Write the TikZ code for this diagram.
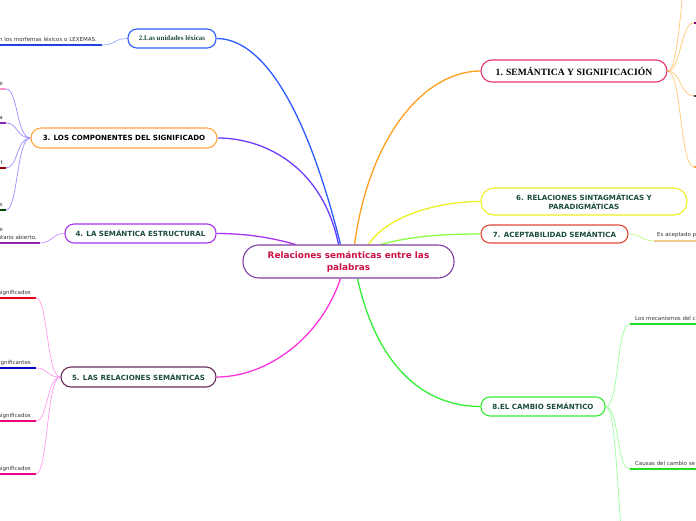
\documentclass[tikz,border=0pt]{standalone}
\usepackage{fontspec}
\setmainfont{Liberation Serif}
\newfontfamily\vfont{DejaVu Sans}
\pgfdeclarelayer{background}
\pgfsetlayers{background,main}
\definecolor{cenpurple}{HTML}{7E3FA0}
\definecolor{cenred}{HTML}{CC1144}
\definecolor{txtgreen}{HTML}{1B4D3E}
\definecolor{leafgray}{HTML}{333333}
\definecolor{cA}{HTML}{2B5CFF}\definecolor{cApale}{HTML}{99AAFF}\definecolor{cAline}{HTML}{2244DD}
\definecolor{bB}{HTML}{FFA540}\definecolor{cB}{HTML}{6A3BFF}\definecolor{cBpale}{HTML}{9F8AFF}
\definecolor{bC}{HTML}{AA33EE}\definecolor{cCpale}{HTML}{CC88FF}\definecolor{cCline}{HTML}{8E24AA}
\definecolor{bD}{HTML}{6B2D5C}\definecolor{cD}{HTML}{FF33DD}\definecolor{cDpale}{HTML}{FF99EE}
\definecolor{bE}{HTML}{E8336A}\definecolor{cE}{HTML}{FFA020}\definecolor{cEpale}{HTML}{FFC870}
\definecolor{bF}{HTML}{EEEE22}
\definecolor{bG}{HTML}{E0483A}\definecolor{cG}{HTML}{88FF44}\definecolor{cGpale}{HTML}{B0FF80}\definecolor{cGline}{HTML}{F0C890}
\definecolor{bH}{HTML}{33EE33}\definecolor{cHpale}{HTML}{99FF99}\definecolor{cHline}{HTML}{22DD22}
\begin{document}
\begin{tikzpicture}[x=1pt,y=-1pt,
  box/.style={draw,fill=white,line width=1.1pt,align=center,inner sep=0pt,rounded corners=9pt,text=txtgreen,font=\vfont\bfseries\fontsize{7.1}{8.6}\selectfont},
  mainconn/.style={line width=1.3pt},
  subconn/.style={line width=0.7pt},
  leafline/.style={line width=1.6pt},
  leaftext/.style={inner sep=0pt,text=leafgray,font=\vfont\fontsize{5.5}{6.5}\selectfont}]
\useasboundingbox (0,0) rectangle (696,520);

% main nodes
\node[box,draw=cenpurple,text=cenred,minimum width=211pt,minimum height=33pt,rounded corners=16pt,font=\vfont\bfseries\fontsize{8.9}{12}\selectfont] (cen) at (348.5,261.5) {Relaciones semánticas entre las\\palabras};
\node[box,draw=cA,minimum width=88pt,minimum height=19pt,font=\bfseries\fontsize{7}{8}\selectfont] (n2) at (172,38.5) {2.Las unidades léxicas};
\node[box,draw=bB,text=black,minimum width=186pt,minimum height=20pt,rounded corners=10pt] (n3) at (124,138) {3. LOS COMPONENTES DEL SIGNIFICADO};
\node[box,draw=bC,minimum width=151pt,minimum height=19pt] (n4) at (140.5,233.5) {4. LA SEMÁNTICA ESTRUCTURAL};
\node[box,draw=bD,minimum width=155pt,minimum height=20pt,rounded corners=10pt] (n5) at (138.5,377) {5. LAS RELACIONES SEMÁNTICAS};
\node[box,draw=bE,text=black,minimum width=186pt,minimum height=22pt,rounded corners=11pt,font=\bfseries\fontsize{9.6}{11}\selectfont] (n1) at (574,71) {1. SEMÁNTICA Y SIGNIFICACIÓN};
\node[box,draw=bF,minimum width=206pt,minimum height=27pt,rounded corners=13pt] (n6) at (584,201.5) {6. RELACIONES SINTAGMÁTICAS Y\\PARADIGMÁTICAS};
\node[box,draw=bG,minimum width=147pt,minimum height=18pt] (n7) at (554.5,234) {7. ACEPTABILIDAD SEMÁNTICA};
\node[box,draw=bH,minimum width=124pt,minimum height=19pt] (n8) at (543,406.5) {8.EL CAMBIO SEMÁNTICO};

% leaf coordinates
\coordinate (l2) at (102,45);
\coordinate (l3a) at (6,89);
\coordinate (l3b) at (6,123);
\coordinate (l3c) at (6,168);
\coordinate (l3d) at (6,210);
\coordinate (l4) at (40,243);
\coordinate (l5a) at (36,298);
\coordinate (l5b) at (36,368);
\coordinate (l5c) at (36,421);
\coordinate (l5d) at (36,474);
\coordinate (l1a) at (694,-45);
\coordinate (l1b) at (694,23);
\coordinate (l1c) at (694,96);
\coordinate (l1d) at (694,167);
\coordinate (l7) at (654,241);
\coordinate (l8a) at (630,324);
\coordinate (l8b) at (630,469);
\coordinate (l8c) at (630,560);

% leaf texts
\node[leaftext,anchor=base east] (t2) at (97,41) {n los morfemas léxicos o LEXEMAS.};
\node[leaftext,anchor=base east] (t3a) at (3,85) {e};
\node[leaftext,anchor=base east] (t3b) at (3,119) {a};
\node[leaftext,anchor=base east] (t3c) at (3,164) {t};
\node[leaftext,anchor=base east] (t3d) at (3,206) {s};
\node[leaftext,anchor=base east] (t4a) at (3,231) {e};
\node[leaftext,anchor=base east] (t4b) at (37,239) {entario abierto.};
\node[leaftext,anchor=base east] (t5a) at (31,294) {significados};
\node[leaftext,anchor=base east] (t5b) at (31,364) {significantes};
\node[leaftext,anchor=base east] (t5c) at (31,417) {significados};
\node[leaftext,anchor=base east] (t5d) at (31,470) {significados};
\node[leaftext,anchor=base west] (t7) at (657,236.5) {Es aceptado p};
\node[leaftext,anchor=base west] (t8a) at (635,320) {Los mecanismos del c};
\node[leaftext,anchor=base west] (t8b) at (635,465) {Causas del cambio se};

\begin{pgfonlayer}{background}
% main connectors
\draw[mainconn,draw=cA] ([xshift=-8pt]cen.north) .. controls +(-35,-140) and +(45,0) .. (n2.east);
\draw[mainconn,draw=cB] ([xshift=-10pt]cen.north) .. controls +(-15,-75) and +(50,0) .. (n3.east);
\draw[mainconn,draw=bC] ([xshift=-53pt]cen.north) .. controls +(-25,-7) and +(30,0) .. (n4.east);
\draw[mainconn,draw=cD] ([xshift=-8pt]cen.south) .. controls +(-20,60) and +(50,0) .. (n5.east);
\draw[mainconn,draw=cE] ([xshift=6pt]cen.north) .. controls +(15,-110) and +(-55,0) .. (n1.west);
\draw[mainconn,draw=bF] ([xshift=20pt]cen.north) .. controls +(20,-30) and +(-40,0) .. (n6.west);
\draw[mainconn,draw=cG] ([xshift=32pt]cen.north) .. controls +(30,-8) and +(-40,0) .. (n7.west);
\draw[mainconn,draw=bH] ([xshift=9pt]cen.south) .. controls +(20,90) and +(-55,0) .. (n8.west);

% sub connectors
\draw[subconn,draw=cApale] (n2.west) .. controls +(-14,0) and +(14,0) .. (l2);
\foreach \c in {l3a,l3b,l3c,l3d}
  \draw[subconn,draw=cBpale] (n3.west) .. controls +(-14,0) and +(12,0) .. (\c);
\draw[subconn,draw=cCpale] (n4.west) .. controls +(-12,0) and +(12,0) .. (l4);
\foreach \c in {l5a,l5b,l5c,l5d}
  \draw[subconn,draw=cDpale] (n5.west) .. controls +(-14,0) and +(12,0) .. (\c);
\foreach \c in {l1a,l1b,l1c,l1d}
  \draw[subconn,draw=cEpale] (n1.east) .. controls +(14,0) and +(-14,0) .. (\c);
\draw[subconn,draw=cGpale] (n7.east) .. controls +(12,0) and +(-12,0) .. (l7);
\foreach \c in {l8a,l8b,l8c}
  \draw[subconn,draw=cHpale] (n8.east) .. controls +(14,0) and +(-14,0) .. (\c);
\end{pgfonlayer}

% leaf lines
\draw[leafline,draw=cAline] (l2) -- ++(-104,0);
\draw[leafline,draw=pink!80!magenta] (l3a) -- ++(-8,0);
\draw[leafline,draw=cCline] (l3b) -- ++(-8,0);
\draw[leafline,draw=red!60!black] (l3c) -- ++(-8,0);
\draw[leafline,draw=green!30!black] (l3d) -- ++(-8,0);
\draw[leafline,draw=cCline] (l4) -- ++(-42,0);
\draw[leafline,draw=red!70!purple] (l5a) -- ++(-38,0);
\draw[leafline,draw=blue!80!black] (l5b) -- ++(-38,0);
\draw[leafline,draw=magenta!85!red] (l5c) -- ++(-38,0);
\draw[leafline,draw=magenta] (l5d) -- ++(-38,0);
\draw[leafline,draw=violet] (l1b) -- ++(6,0);
\draw[leafline,draw=black!70!olive] (l1c) -- ++(6,0);
\draw[leafline,draw=bB] (l1d) -- ++(6,0);
\draw[leafline,draw=cGline] (l7) -- ++(46,0);
\draw[leafline,draw=cHline] (l8a) -- ++(70,0);
\draw[leafline,draw=cHline] (l8b) -- ++(70,0);
\end{tikzpicture}
\end{document}
